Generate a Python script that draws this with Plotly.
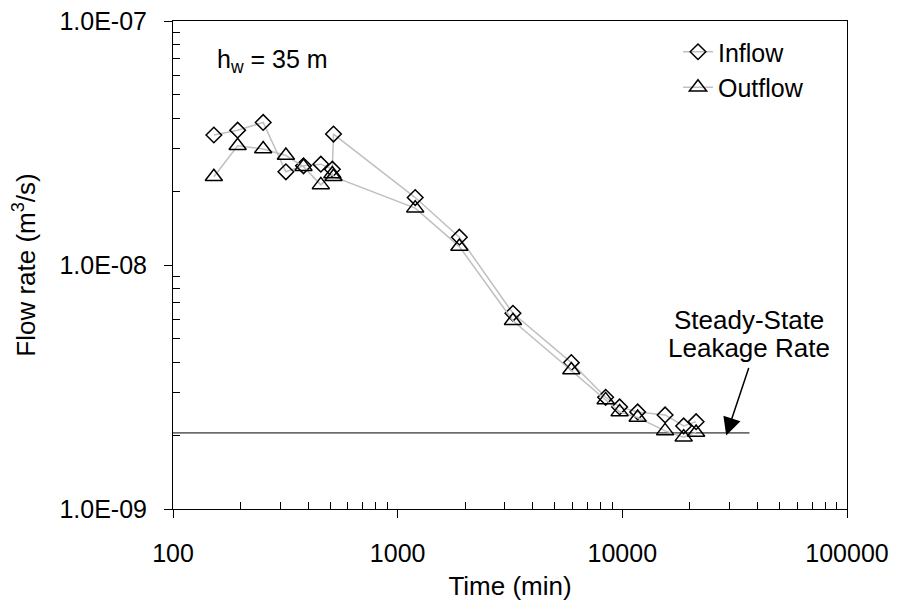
import math
import plotly.graph_objects as go

# ---- data ----
time_min = [152, 194, 252, 318, 381, 455, 512, 518, 1197, 1882, 3260, 5928,
            8427, 9727, 11700, 15500, 18750, 21300]
inflow = [3.41e-8, 3.57e-8, 3.84e-8, 2.41e-8, 2.55e-8, 2.59e-8, 2.47e-8, 3.44e-8,
          1.89e-8, 1.30e-8, 6.34e-9, 3.98e-9, 2.87e-9, 2.62e-9, 2.50e-9, 2.43e-9,
          2.19e-9, 2.28e-9]
outflow = [2.30e-8, 3.08e-8, 2.99e-8, 2.81e-8, 2.53e-8, 2.13e-8, 2.36e-8, 2.30e-8,
           1.71e-8, 1.19e-8, 5.91e-9, 3.71e-9, 2.80e-9, 2.50e-9, 2.37e-9, 2.09e-9,
           1.97e-9, 2.06e-9]
steady_time = [100, 36800]
steady_rate = [2.05e-9, 2.05e-9]
arrow_target = (29000, 2.0e-9)

x_tickvals = [100, 1000, 10000, 100000]
x_ticktext = ["100", "1000", "10000", "100000"]
y_tickvals = [1e-9, 1e-8, 1e-7]
y_ticktext = ["1.0E-09", "1.0E-08", "1.0E-07"]
x_minor = [m * 10 ** e for e in (2, 3, 4) for m in range(2, 10)]
y_minor = [m * 10.0 ** e for e in (-9, -8) for m in range(2, 10)]

FONT = "Liberation Sans, Arial, sans-serif"
fig = go.Figure()

fig.add_trace(go.Scatter(
    x=steady_time, y=steady_rate, mode="lines",
    line=dict(color="black", width=1), showlegend=False, hoverinfo="skip"))

fig.add_trace(go.Scatter(
    x=time_min, y=inflow, name="Inflow", mode="lines+markers",
    line=dict(color="#c0c0c0", width=1.5),
    marker=dict(symbol="diamond-open", size=12, color="black", line=dict(width=1.5))))

fig.add_trace(go.Scatter(
    x=time_min, y=outflow, name="Outflow", mode="lines+markers",
    line=dict(color="#c0c0c0", width=1.5),
    marker=dict(symbol="triangle-up-open", size=15, color="black", line=dict(width=1.5))))

axis_common = dict(showline=True, linecolor="black", linewidth=1, mirror=True,
                   showgrid=False, zeroline=False, ticks="outside", ticklen=8,
                   tickcolor="black", tickwidth=1, automargin=False,
                   tickfont=dict(family=FONT, size=25, color="black"))

fig.update_xaxes(type="log", range=[2, 5], tickmode="array",
                 tickvals=x_tickvals, ticktext=x_ticktext,
                 minor=dict(tickmode="array", tickvals=x_minor, ticks="inside",
                            ticklen=7, tickcolor="black", tickwidth=1),
                 ticklabelstandoff=14,
                 title=dict(text="Time (min)", font=dict(family=FONT, size=26, color="black"),
                            standoff=10),
                 **axis_common)
fig.update_yaxes(type="log", range=[-9, -7], tickmode="array",
                 tickvals=y_tickvals, ticktext=y_ticktext,
                 minor=dict(tickmode="array", tickvals=y_minor, ticks="inside",
                            ticklen=7, tickcolor="black", tickwidth=1),
                 ticklabelstandoff=12,
                 title=dict(text="Flow rate (m<sup>3</sup>/s)",
                            font=dict(family=FONT, size=26, color="black"), standoff=16),
                 **axis_common)

fig.add_annotation(xref="paper", yref="paper", x=0.062, y=0.918, xanchor="left",
                   yanchor="middle", showarrow=False, text="h<sub>w</sub> = 35 m",
                   font=dict(family=FONT, size=25, color="black"))
fig.add_annotation(xref="x", yref="y", x=math.log10(arrow_target[0]),
                   y=math.log10(arrow_target[1]),
                   ax=23, ay=-69, axref="pixel", ayref="pixel",
                   text="", showarrow=True, arrowhead=2, arrowsize=2.4,
                   arrowwidth=1.5, arrowcolor="black")
fig.add_annotation(xref="paper", yref="paper", x=(749 - 173) / 674, y=(509 - 320) / 488,
                   xanchor="center", yanchor="middle", showarrow=False,
                   text="Steady-State", font=dict(family=FONT, size=26, color="black"))
fig.add_annotation(xref="paper", yref="paper", x=(749 - 173) / 674, y=(509 - 348) / 488,
                   xanchor="center", yanchor="middle", showarrow=False,
                   text="Leakage Rate", font=dict(family=FONT, size=26, color="black"))

fig.update_layout(
    width=897, height=611,
    margin=dict(l=173, r=50, t=21, b=102),
    paper_bgcolor="white", plot_bgcolor="white",
    font=dict(family=FONT, size=25, color="black"),
    legend=dict(x=(678 - 173) / 674, y=(509 - 29) / 488, xanchor="left", yanchor="top",
                bgcolor="rgba(0,0,0,0)", font=dict(family=FONT, size=25, color="black"),
                itemwidth=30, tracegroupgap=0),
)

fig.write_html("out.html", config={"displayModeBar": False},
               post_script="document.body.style.margin='0';document.body.style.overflow='hidden';")
